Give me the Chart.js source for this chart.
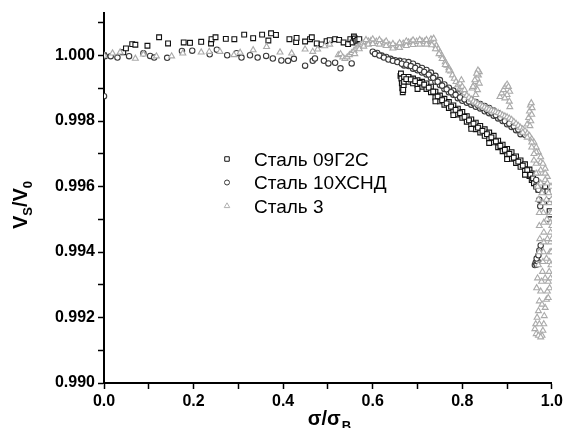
<!DOCTYPE html>
<html>
<head>
<meta charset="utf-8">
<script src="https://cdn.jsdelivr.net/npm/chart.js@4.4.0/dist/chart.umd.min.js"></script>
<style>
  body { margin: 0; background: #fff; }
  #wrap { width: 566px; height: 428px; }
</style>
</head>
<body>
<div id="wrap"><canvas id="grafico" width="566" height="428"></canvas></div>
<script>
// series names
var seriesNames = ['Сталь 09Г2С', 'Сталь 10ХСНД', 'Сталь 3'];

// ticks
var xTickValues = [0.0, 0.1, 0.2, 0.3, 0.4, 0.5, 0.6, 0.7, 0.8, 0.9, 1.0];
var xTickLabels = ['0.0', '', '0.2', '', '0.4', '', '0.6', '', '0.8', '', '1.0'];
var yTickValues = [0.990, 0.991, 0.992, 0.993, 0.994, 0.995, 0.996, 0.997, 0.998, 0.999, 1.000, 1.001];
var yTickLabels = ['0.990', '', '0.992', '', '0.994', '', '0.996', '', '0.998', '', '1.000', ''];

// Сталь 09Г2С (squares)  [sigma/sigmaB, Vs/V0]
var steel09G2S = [
  [0.000, 1.00000], [0.043, 1.00010], [0.049, 1.00022], [0.063, 1.00035], [0.070, 1.00033],
  [0.097, 1.00030], [0.123, 1.00056], [0.143, 1.00037], [0.178, 1.00040], [0.192, 1.00039],
  [0.217, 1.00042], [0.239, 1.00037], [0.240, 1.00050], [0.249, 1.00056], [0.272, 1.00051],
  [0.291, 1.00050], [0.313, 1.00064], [0.333, 1.00053], [0.353, 1.00064], [0.367, 1.00046],
  [0.373, 1.00068], [0.384, 1.00063], [0.414, 1.00050], [0.429, 1.00041], [0.430, 1.00054],
  [0.449, 1.00043], [0.460, 1.00050], [0.464, 1.00056], [0.475, 1.00037], [0.486, 1.00034],
  [0.497, 1.00044], [0.504, 1.00047], [0.516, 1.00050], [0.525, 1.00048], [0.535, 1.00040],
  [0.545, 1.00035], [0.550, 1.00050], [0.555, 1.00040], [0.558, 1.00058], [0.560, 1.00052],
  [0.563, 1.00045], [0.566, 1.00048], [0.570, 1.00050],
  [0.662, 0.99938], [0.663, 0.99945], [0.664, 0.99930], [0.665, 0.99915], [0.666, 0.99900],
  [0.667, 0.99888], [0.668, 0.99895], [0.669, 0.99910],
  [0.670, 0.99935], [0.670, 0.99920], [0.680, 0.99935], [0.680, 0.99920], [0.690, 0.99930],
  [0.690, 0.99915], [0.700, 0.99925], [0.700, 0.99910], [0.710, 0.99920], [0.710, 0.99905],
  [0.720, 0.99915], [0.720, 0.99898], [0.730, 0.99905], [0.730, 0.99888], [0.740, 0.99890],
  [0.740, 0.99872], [0.750, 0.99878], [0.750, 0.99860], [0.760, 0.99868], [0.760, 0.99850],
  [0.770, 0.99858], [0.770, 0.99840], [0.780, 0.99848], [0.780, 0.99830], [0.790, 0.99838],
  [0.790, 0.99820], [0.800, 0.99828], [0.800, 0.99810], [0.810, 0.99815], [0.810, 0.99798],
  [0.820, 0.99805], [0.820, 0.99788], [0.830, 0.99795], [0.830, 0.99775], [0.840, 0.99785],
  [0.840, 0.99765], [0.850, 0.99775], [0.850, 0.99755], [0.860, 0.99765], [0.860, 0.99745],
  [0.870, 0.99755], [0.870, 0.99735], [0.880, 0.99740], [0.880, 0.99720], [0.890, 0.99728],
  [0.890, 0.99708], [0.900, 0.99715], [0.900, 0.99695], [0.910, 0.99705], [0.910, 0.99685],
  [0.920, 0.99692], [0.920, 0.99672], [0.930, 0.99680], [0.930, 0.99660], [0.940, 0.99668],
  [0.940, 0.99648], [0.950, 0.99652], [0.950, 0.99632], [0.955, 0.99640], [0.955, 0.99620],
  [0.675, 0.99928], [0.685, 0.99927], [0.695, 0.99922], [0.705, 0.99917], [0.715, 0.99911],
  [0.725, 0.99902], [0.735, 0.99890], [0.745, 0.99875], [0.755, 0.99864], [0.765, 0.99854],
  [0.775, 0.99844], [0.785, 0.99834], [0.795, 0.99824], [0.805, 0.99813], [0.815, 0.99802],
  [0.825, 0.99792], [0.835, 0.99780], [0.845, 0.99770], [0.855, 0.99760], [0.865, 0.99750],
  [0.875, 0.99738], [0.885, 0.99724], [0.895, 0.99712], [0.905, 0.99700], [0.915, 0.99688],
  [0.925, 0.99676], [0.935, 0.99664], [0.945, 0.99650], [0.952, 0.99636], [0.958, 0.99625],
  [0.700, 0.99898], [0.740, 0.99860], [0.780, 0.99818], [0.820, 0.99776], [0.860, 0.99733],
  [0.900, 0.99684], [0.940, 0.99636],
  [0.960, 0.99610], [0.965, 0.99600], [0.970, 0.99590], [0.985, 0.99600], [0.990, 0.99585],
  [0.993, 0.99555], [0.995, 0.99525], [0.996, 0.99500]
];

// Сталь 10ХСНД (circles)
var steel10HSND = [
  [0.000, 1.00000], [0.000, 0.99876], [0.002, 0.99998], [0.015, 0.99998], [0.030, 0.99994],
  [0.056, 0.99998], [0.088, 1.00007], [0.103, 0.99999], [0.112, 0.99994], [0.141, 0.99993],
  [0.174, 1.00014], [0.197, 1.00015], [0.236, 1.00004], [0.252, 1.00018], [0.275, 1.00001],
  [0.296, 1.00007], [0.307, 0.99994], [0.326, 1.00001], [0.343, 0.99994], [0.362, 0.99999],
  [0.377, 0.99991], [0.396, 0.99985], [0.411, 0.99984], [0.424, 0.99990], [0.449, 0.99969],
  [0.466, 0.99984], [0.471, 0.99991], [0.491, 0.99984], [0.501, 0.99976], [0.516, 0.99978],
  [0.528, 0.99961], [0.553, 0.99976],
  [0.600, 1.00012], [0.610, 1.00008], [0.620, 1.00000], [0.630, 0.99996], [0.640, 0.99990],
  [0.650, 0.99986], [0.660, 0.99984], [0.670, 0.99982], [0.670, 0.99970], [0.680, 0.99980],
  [0.680, 0.99968], [0.690, 0.99975], [0.690, 0.99960], [0.700, 0.99968], [0.700, 0.99955],
  [0.710, 0.99962], [0.710, 0.99948], [0.720, 0.99956], [0.720, 0.99942], [0.730, 0.99948],
  [0.730, 0.99932], [0.740, 0.99938], [0.740, 0.99920], [0.750, 0.99925], [0.750, 0.99910],
  [0.760, 0.99912], [0.760, 0.99898], [0.770, 0.99902], [0.770, 0.99888], [0.780, 0.99893],
  [0.780, 0.99880], [0.790, 0.99884], [0.790, 0.99870], [0.800, 0.99876], [0.800, 0.99862],
  [0.810, 0.99870], [0.810, 0.99856], [0.820, 0.99864], [0.820, 0.99850], [0.830, 0.99858],
  [0.830, 0.99844], [0.840, 0.99852], [0.840, 0.99838], [0.850, 0.99846], [0.850, 0.99830],
  [0.860, 0.99840], [0.860, 0.99824], [0.870, 0.99832], [0.870, 0.99816], [0.880, 0.99824],
  [0.880, 0.99808], [0.890, 0.99815], [0.890, 0.99800], [0.900, 0.99806], [0.900, 0.99790],
  [0.910, 0.99798], [0.910, 0.99782], [0.920, 0.99788], [0.920, 0.99772], [0.930, 0.99777],
  [0.930, 0.99760],
  [0.605, 1.00005], [0.615, 1.00000], [0.625, 0.99994], [0.635, 0.99988], [0.645, 0.99984],
  [0.655, 0.99980], [0.665, 0.99975], [0.675, 0.99972], [0.685, 0.99968], [0.695, 0.99962],
  [0.705, 0.99956], [0.715, 0.99950], [0.725, 0.99942], [0.735, 0.99932], [0.745, 0.99920],
  [0.755, 0.99908], [0.765, 0.99897], [0.775, 0.99888], [0.785, 0.99880], [0.795, 0.99872],
  [0.805, 0.99866], [0.815, 0.99860], [0.825, 0.99854], [0.835, 0.99848], [0.845, 0.99840],
  [0.855, 0.99834], [0.865, 0.99826], [0.875, 0.99818], [0.885, 0.99810], [0.895, 0.99800],
  [0.905, 0.99792], [0.915, 0.99784], [0.925, 0.99774], [0.935, 0.99765], [0.940, 0.99758],
  [0.965, 0.99620], [0.970, 0.99590], [0.972, 0.99560], [0.974, 0.99540],
  [0.962, 0.99360], [0.964, 0.99368], [0.966, 0.99362], [0.968, 0.99372], [0.966, 0.99380],
  [0.970, 0.99390], [0.972, 0.99405], [0.975, 0.99420]
];

// Сталь 3 (triangles)
var steel3 = [
  [0.000, 1.00000], [0.019, 1.00007], [0.036, 1.00010], [0.070, 0.99991], [0.088, 1.00004],
  [0.117, 0.99998], [0.151, 0.99998], [0.176, 1.00007], [0.217, 1.00010], [0.235, 1.00012],
  [0.259, 1.00012], [0.290, 1.00002], [0.304, 1.00009], [0.333, 1.00017], [0.363, 1.00027],
  [0.393, 1.00010], [0.419, 1.00007], [0.449, 1.00019], [0.466, 1.00012], [0.477, 1.00019],
  [0.493, 1.00029], [0.504, 1.00034], [0.523, 1.00002],
  [0.528, 1.00005], [0.533, 0.99995], [0.538, 0.99990], [0.543, 0.99995], [0.548, 1.00002],
  [0.553, 1.00008], [0.558, 1.00015], [0.563, 1.00022], [0.568, 1.00028], [0.573, 1.00034],
  [0.578, 1.00038], [0.584, 1.00042], [0.590, 1.00044], [0.596, 1.00045], [0.602, 1.00044],
  [0.608, 1.00043], [0.614, 1.00042], [0.620, 1.00040], [0.626, 1.00038], [0.632, 1.00036],
  [0.638, 1.00032], [0.644, 1.00029], [0.650, 1.00028], [0.656, 1.00030], [0.662, 1.00034],
  [0.668, 1.00037], [0.674, 1.00039], [0.680, 1.00041], [0.686, 1.00042], [0.692, 1.00042],
  [0.698, 1.00043], [0.704, 1.00043], [0.710, 1.00044], [0.716, 1.00043], [0.722, 1.00042],
  [0.728, 1.00044], [0.733, 1.00046], [0.738, 1.00040], [0.742, 1.00030], [0.746, 1.00020],
  [0.750, 1.00010], [0.754, 1.00000], [0.758, 0.99990], [0.762, 0.99980], [0.766, 0.99970],
  [0.770, 0.99962], [0.774, 0.99952], [0.778, 0.99940], [0.782, 0.99930],
  [0.560, 1.00005], [0.570, 1.00020], [0.580, 1.00028], [0.590, 1.00034], [0.600, 1.00036],
  [0.615, 1.00034], [0.630, 1.00030], [0.645, 1.00022], [0.660, 1.00024], [0.675, 1.00030],
  [0.690, 1.00033], [0.705, 1.00034], [0.720, 1.00034], [0.732, 1.00032], [0.740, 1.00020],
  [0.748, 1.00005], [0.755, 0.99990], [0.762, 0.99972], [0.770, 0.99955],
  [0.585, 1.00048], [0.600, 1.00050], [0.615, 1.00048], [0.630, 1.00044], [0.645, 1.00036],
  [0.660, 1.00038], [0.675, 1.00044], [0.690, 1.00047], [0.705, 1.00048], [0.720, 1.00048],
  [0.730, 1.00050], [0.736, 1.00052],
  [0.786, 0.99920], [0.790, 0.99910], [0.795, 0.99900], [0.800, 0.99892], [0.805, 0.99885],
  [0.810, 0.99878], [0.815, 0.99872], [0.820, 0.99866], [0.825, 0.99860], [0.830, 0.99856],
  [0.835, 0.99852], [0.840, 0.99848], [0.845, 0.99845], [0.850, 0.99842], [0.855, 0.99838],
  [0.860, 0.99835], [0.865, 0.99832], [0.870, 0.99830], [0.875, 0.99828], [0.880, 0.99825],
  [0.885, 0.99822], [0.890, 0.99818], [0.895, 0.99815], [0.900, 0.99812], [0.905, 0.99808],
  [0.910, 0.99804], [0.915, 0.99798], [0.920, 0.99792], [0.925, 0.99786], [0.930, 0.99780],
  [0.935, 0.99775], [0.940, 0.99770], [0.945, 0.99762], [0.950, 0.99755], [0.955, 0.99745],
  [0.960, 0.99735], [0.965, 0.99720], [0.970, 0.99705],
  [0.935, 0.99765], [0.945, 0.99750], [0.955, 0.99735], [0.965, 0.99705], [0.975, 0.99675],
  [0.985, 0.99655], [0.990, 0.99630], [0.975, 0.99650], [0.985, 0.99620],
  [0.795, 0.99915], [0.800, 0.99905], [0.805, 0.99895], [0.798, 0.99925],
  [0.822, 0.99900], [0.826, 0.99910], [0.830, 0.99920], [0.833, 0.99930], [0.836, 0.99940],
  [0.838, 0.99950], [0.835, 0.99955], [0.832, 0.99945], [0.828, 0.99925], [0.824, 0.99905],
  [0.838, 0.99915], [0.834, 0.99895], [0.830, 0.99880],
  [0.884, 0.99874], [0.888, 0.99885], [0.892, 0.99895], [0.896, 0.99905], [0.900, 0.99912],
  [0.903, 0.99905], [0.906, 0.99890], [0.900, 0.99880], [0.895, 0.99870], [0.905, 0.99860],
  [0.906, 0.99843],
  [0.945, 0.99790], [0.948, 0.99810], [0.950, 0.99830], [0.952, 0.99848], [0.954, 0.99855],
  [0.956, 0.99840], [0.955, 0.99820], [0.953, 0.99800], [0.951, 0.99785],
  [0.975, 0.99690], [0.980, 0.99670], [0.985, 0.99640], [0.990, 0.99610], [0.993, 0.99580],
  [0.995, 0.99550], [0.996, 0.99520], [0.997, 0.99490], [0.997, 0.99460], [0.997, 0.99430],
  [0.996, 0.99400], [0.995, 0.99370], [0.994, 0.99340], [0.992, 0.99310], [0.990, 0.99280],
  [0.988, 0.99255], [0.985, 0.99230], [0.983, 0.99205], [0.982, 0.99180], [0.980, 0.99160],
  [0.978, 0.99145],
  [0.960, 0.99700], [0.965, 0.99670], [0.970, 0.99640], [0.975, 0.99610], [0.978, 0.99580],
  [0.980, 0.99550], [0.981, 0.99520], [0.982, 0.99490], [0.982, 0.99460], [0.982, 0.99430],
  [0.981, 0.99400], [0.980, 0.99370], [0.979, 0.99340], [0.977, 0.99310], [0.975, 0.99280],
  [0.972, 0.99250], [0.970, 0.99220], [0.967, 0.99200], [0.964, 0.99180], [0.962, 0.99165],
  [0.965, 0.99150], [0.970, 0.99145], [0.975, 0.99140],
  [0.988, 0.99560], [0.989, 0.99500], [0.990, 0.99440], [0.988, 0.99380], [0.985, 0.99320],
  [0.978, 0.99240], [0.972, 0.99180],
  [0.998, 0.99600], [0.999, 0.99560], [1.000, 0.99520], [1.000, 0.99480], [1.000, 0.99440],
  [0.999, 0.99400], [0.998, 0.99360], [0.997, 0.99320], [0.995, 0.99290], [0.992, 0.99260],
  [0.955, 0.99720], [0.960, 0.99680], [0.965, 0.99640], [0.968, 0.99600], [0.970, 0.99560],
  [0.972, 0.99520], [0.972, 0.99480], [0.973, 0.99440], [0.972, 0.99400], [0.970, 0.99360],
  [0.968, 0.99320], [0.966, 0.99290]
];

var FONTE = "'Liberation Sans', Arial, sans-serif";

function pontos(lista) {
  return lista.map(function (p) { return { x: p[0], y: p[1] }; });
}

// legend + axis titles drawn on the canvas (inside plot area, with subscripts)
var extras = {
  id: 'extras',
  afterDraw: function (chart) {
    var ctx = chart.ctx;
    ctx.save();
    // legend
    var itens = [
      { estilo: 'rect', cor: '#111111', r: 3.2 },
      { estilo: 'circle', cor: '#3a3a3a', r: 2.5 },
      { estilo: 'triangle', cor: '#b0b0b0', r: 3.2 }
    ];
    var linhas = [165.5, 189, 212.5];
    for (var i = 0; i < itens.length; i++) {
      ctx.lineWidth = 1;
      ctx.strokeStyle = itens[i].cor;
      ctx.fillStyle = '#fff';
      Chart.helpers.drawPoint(ctx, { pointStyle: itens[i].estilo, radius: itens[i].r, borderWidth: 1, rotation: 0 }, 227, linhas[i] - 6.5);
      ctx.fillStyle = '#000';
      ctx.font = '19px ' + FONTE;
      ctx.textAlign = 'left';
      ctx.textBaseline = 'alphabetic';
      ctx.fillText(seriesNames[i], 254, linhas[i]);
    }

    // x title: σ/σB
    ctx.fillStyle = '#000';
    var fGrande = 'bold 20px ' + FONTE;
    var fPequena = 'bold 13px ' + FONTE;
    ctx.font = fGrande;
    var w1 = ctx.measureText('σ/σ').width;
    ctx.font = fPequena;
    var w2 = ctx.measureText('B').width;
    var x0 = 329 - (w1 + w2) / 2;
    ctx.font = fGrande;
    ctx.fillText('σ/σ', x0, 425);
    ctx.font = fPequena;
    ctx.fillText('B', x0 + w1 + 1, 430);

    // y title: VS/V0
    ctx.translate(27, 205);
    ctx.rotate(-Math.PI / 2);
    var partes = [['V', fGrande, 0], ['S', fPequena, 5], ['/V', fGrande, 0], ['0', fPequena, 5]];
    var total = 0;
    partes.forEach(function (p) { ctx.font = p[1]; total += ctx.measureText(p[0]).width; });
    var pos = -total / 2;
    partes.forEach(function (p) {
      ctx.font = p[1];
      ctx.fillText(p[0], pos, p[2]);
      pos += ctx.measureText(p[0]).width;
    });
    ctx.restore();
  }
};

var ctx = document.getElementById('grafico').getContext('2d');
var meuGrafico = new Chart(ctx, {
  type: 'scatter',
  data: {
    datasets: [{
      label: seriesNames[0],
      data: pontos(steel09G2S),
      pointStyle: 'rect',
      pointRadius: 3.4,
      borderColor: '#111111',
      backgroundColor: '#ffffff',
      pointBorderWidth: 1.1,
      order: 2
    }, {
      label: seriesNames[1],
      data: pontos(steel10HSND),
      pointStyle: 'circle',
      pointRadius: 2.7,
      borderColor: '#3a3a3a',
      backgroundColor: '#ffffff',
      pointBorderWidth: 1.1,
      order: 1
    }, {
      label: seriesNames[2],
      data: pontos(steel3),
      pointStyle: 'triangle',
      pointRadius: 3.4,
      borderColor: '#aaaaaa',
      backgroundColor: '#ffffff',
      pointBorderWidth: 1.1,
      order: 0
    }]
  },
  options: {
    responsive: false,
    animation: false,
    devicePixelRatio: 1,
    layout: { padding: { top: 13, right: 14, left: 0, bottom: 0 } },
    plugins: {
      legend: { display: false },
      tooltip: { enabled: false }
    },
    scales: {
      x: {
        type: 'linear',
        min: 0,
        max: 1,
        afterBuildTicks: function (axis) {
          axis.ticks = xTickValues.map(function (v) { return { value: v }; });
        },
        afterFit: function (scale) { scale.height = 45; },
        border: { display: true, width: 2, color: '#000' },
        grid: { drawOnChartArea: false, drawTicks: true, tickLength: 6, tickWidth: 1.5, tickColor: '#000' },
        ticks: {
          color: '#000',
          padding: 3,
          maxRotation: 0,
          autoSkip: false,
          font: { family: FONTE, size: 16, weight: 'bold' },
          callback: function (value, index) { return xTickLabels[index]; }
        }
      },
      y: {
        type: 'linear',
        min: 0.990,
        max: 1.0013,
        afterBuildTicks: function (axis) {
          axis.ticks = yTickValues.map(function (v) { return { value: v }; });
        },
        afterFit: function (scale) { scale.width = 104; },
        border: { display: true, width: 2, color: '#000' },
        grid: { drawOnChartArea: false, drawTicks: true, tickLength: 6, tickWidth: 1.5, tickColor: '#000' },
        ticks: {
          color: '#000',
          padding: 3,
          autoSkip: false,
          font: { family: FONTE, size: 16, weight: 'bold' },
          callback: function (value, index) { return yTickLabels[index]; }
        }
      }
    }
  },
  plugins: [extras]
});
</script>
</body>
</html>
